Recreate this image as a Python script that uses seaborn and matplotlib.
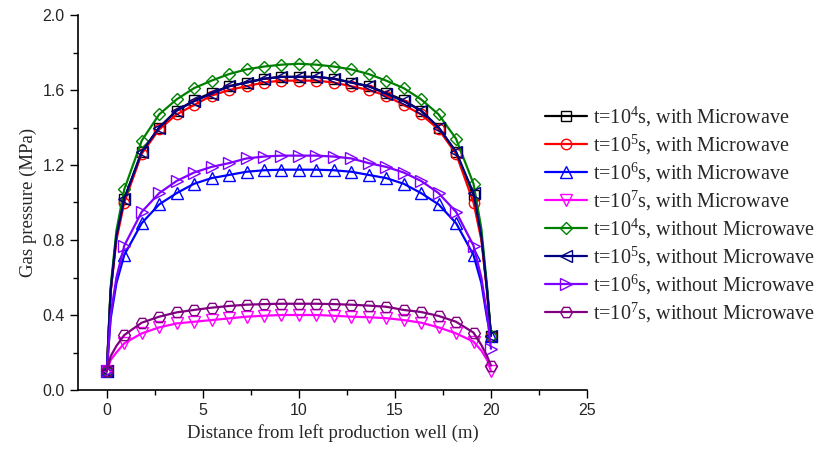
import numpy as np
import pandas as pd
import seaborn as sns
import matplotlib.pyplot as plt
from matplotlib.ticker import MultipleLocator

# distance along the line (m): marker positions plus a few extra points read near the wells
distance = [0.0, 0.2, 0.5, 0.909, 1.818, 2.727, 3.636, 4.545, 5.455, 6.364, 7.273, 8.182, 9.091,
            10.0, 10.909, 11.818, 12.727, 13.636, 14.545, 15.455, 16.364, 17.273, 18.182,
            19.091, 19.5, 19.8, 20.0]
# which of those points carry a marker
marker_idx = [0] + list(range(3, 24)) + [26]

# gas pressure (MPa)
p_1e4_mw = [0.1, 0.53, 0.82, 1.02, 1.27, 1.40, 1.49, 1.545, 1.585, 1.62, 1.64, 1.66, 1.67,
            1.67, 1.67, 1.66, 1.64, 1.62, 1.585, 1.545, 1.49, 1.40, 1.27, 1.04, 0.82, 0.53, 0.29]
p_1e5_mw = [0.1, 0.52, 0.80, 1.00, 1.26, 1.39, 1.47, 1.52, 1.57, 1.60, 1.62, 1.64, 1.65,
            1.65, 1.65, 1.64, 1.62, 1.60, 1.57, 1.52, 1.47, 1.39, 1.26, 1.00, 0.80, 0.52, 0.29]
p_1e6_mw = [0.1, 0.38, 0.57, 0.72, 0.89, 0.99, 1.05, 1.10, 1.13, 1.147, 1.164, 1.172, 1.175,
            1.175, 1.175, 1.172, 1.164, 1.147, 1.13, 1.10, 1.05, 0.99, 0.89, 0.72, 0.57, 0.38, 0.29]
p_1e7_mw = [0.1, 0.16, 0.20, 0.249, 0.302, 0.334, 0.355, 0.364, 0.373, 0.382, 0.391, 0.396, 0.40,
            0.40, 0.40, 0.396, 0.391, 0.388, 0.383, 0.373, 0.359, 0.334, 0.302, 0.258, 0.21, 0.16, 0.1]
p_1e4_no = [0.1, 0.55, 0.85, 1.07, 1.33, 1.47, 1.55, 1.61, 1.65, 1.685, 1.71, 1.725, 1.735,
            1.74, 1.735, 1.725, 1.71, 1.685, 1.65, 1.61, 1.55, 1.47, 1.34, 1.10, 0.86, 0.55, 0.29]
p_1e5_no = [0.1, 0.53, 0.82, 1.02, 1.27, 1.40, 1.49, 1.54, 1.58, 1.62, 1.64, 1.66, 1.67,
            1.67, 1.67, 1.66, 1.64, 1.62, 1.58, 1.54, 1.49, 1.40, 1.27, 1.05, 0.82, 0.53, 0.29]
p_1e6_no = [0.1, 0.40, 0.60, 0.77, 0.95, 1.05, 1.115, 1.16, 1.19, 1.21, 1.235, 1.245, 1.25,
            1.25, 1.25, 1.245, 1.235, 1.21, 1.19, 1.16, 1.115, 1.05, 0.95, 0.77, 0.60, 0.40, 0.22]
p_1e7_no = [0.1, 0.18, 0.235, 0.293, 0.359, 0.391, 0.414, 0.427, 0.439, 0.448, 0.455, 0.458, 0.46,
            0.46, 0.46, 0.458, 0.455, 0.45, 0.444, 0.427, 0.416, 0.395, 0.364, 0.306, 0.24, 0.18, 0.13]

labels = ['t=10$^4$s, with Microwave', 't=10$^5$s, with Microwave',
          't=10$^6$s, with Microwave', 't=10$^7$s, with Microwave',
          't=10$^4$s, without Microwave', 't=10$^5$s, without Microwave',
          't=10$^6$s, without Microwave', 't=10$^7$s, without Microwave']
series = [p_1e4_mw, p_1e5_mw, p_1e6_mw, p_1e7_mw, p_1e4_no, p_1e5_no, p_1e6_no, p_1e7_no]
colors = ['#000000', '#FF0000', '#0000FF', '#FF00FF', '#008000', '#000080', '#8000FF', '#800080']
markers = ['s', 'o', '^', 'v', 'D', '<', '>', 'H']
msizes = [6.5, 7.5, 8.5, 8.5, 6.5, 8.5, 8.5, 8.5]

sns.set_style('ticks')
plt.rcParams['mathtext.fontset'] = 'custom'
plt.rcParams['mathtext.rm'] = 'Liberation Serif'
plt.rcParams['mathtext.it'] = 'Liberation Serif:italic'

fig = plt.figure(figsize=(8.18, 4.54), dpi=100)
ax = fig.add_axes([78 / 818, 64 / 454, 509 / 818, 375 / 454])

for vals, lab, col, mk, ms in zip(series, labels, colors, markers, msizes):
    df = pd.DataFrame({'x': distance, 'p': vals})
    sns.lineplot(data=df, x='x', y='p', ax=ax, color=col, linewidth=1.6, label=lab,
                 marker=mk, markersize=ms, markerfacecolor='none', markeredgecolor=col,
                 markeredgewidth=1.0, markevery=marker_idx, sort=False)

ax.set_xlim(-1.5, 25)
ax.set_ylim(0, 2.0)
ax.xaxis.set_major_locator(MultipleLocator(5))
ax.xaxis.set_minor_locator(MultipleLocator(2.5))
ax.yaxis.set_major_locator(MultipleLocator(0.4))
ax.yaxis.set_minor_locator(MultipleLocator(0.2))
ax.set_yticks([0, 0.4, 0.8, 1.2, 1.6, 2.0])
ax.set_yticklabels(['0.0', '0.4', '0.8', '1.2', '1.6', '2.0'])
ax.tick_params(which='major', direction='out', length=6, width=1, labelsize=11.5, color='black')
ax.tick_params(which='minor', direction='out', length=3.5, width=1, color='black')
for lbl in ax.get_xticklabels() + ax.get_yticklabels():
    lbl.set_family('Liberation Sans')
for s in ['left', 'bottom']:
    ax.spines[s].set_linewidth(1.2)
    ax.spines[s].set_color('black')
sns.despine(ax=ax)

ax.set_xlabel('Distance from left production well (m)', family='Liberation Serif', fontsize=13.5)
ax.set_ylabel('Gas pressure (MPa)', family='Liberation Serif', fontsize=13.5)

ax.legend(loc='center left', bbox_to_anchor=(0.917, 0.467), frameon=False,
          prop={'family': 'Liberation Serif', 'size': 14.5}, handlelength=2.1,
          handletextpad=0.3, labelspacing=0.19, borderaxespad=0, borderpad=0)

fig.savefig('out.png', dpi=100)
